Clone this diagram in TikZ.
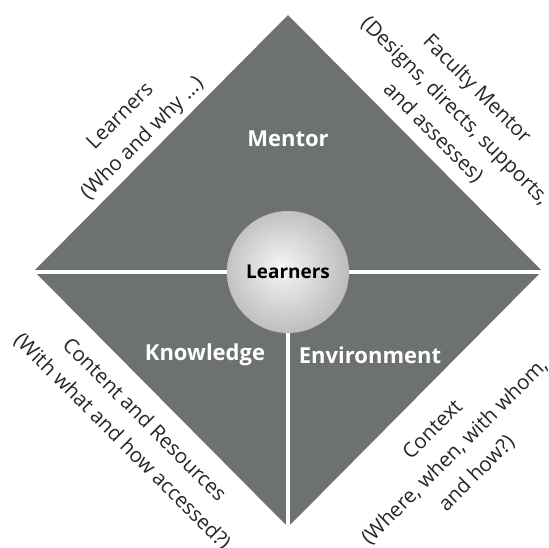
\documentclass[tikz,border=0pt]{standalone}
\usepackage{fontspec}
\setmainfont{Open Sans}
\definecolor{dgray}{RGB}{110,113,113}
\definecolor{txt}{RGB}{38,38,38}
\pgfdeclareradialshading{ballgray}{\pgfpoint{-3bp}{2bp}}{color(0bp)=(white!97!black); color(5bp)=(white!92!black); color(50bp)=(black!46)}
\begin{document}
\begin{tikzpicture}[x=1pt,y=-1pt,
  big/.style={text=white, font=\fontsize{22}{26}\selectfont\bfseries, inner sep=0pt},
  side/.style={align=center, text=txt, font=\fontsize{20.5}{31}\selectfont, inner sep=0pt},
  gap/.style={white, line width=4.2pt}]
\useasboundingbox (0,0) rectangle (549,547);
\coordinate (T) at (288,15);
\coordinate (L) at (34,271);
\coordinate (R) at (542,271);
\coordinate (B) at (288,527);
\coordinate (HL) at (30,272);
\coordinate (HR) at (546,272);
\fill[dgray] (T) -- (R) -- (B) -- (L) -- cycle;
\draw[gap] (HL) -- (HR);
\node[circle, minimum size=122pt, inner sep=0pt, shade, shading=ballgray,
      font=\fontsize{19}{22}\selectfont\bfseries, text=black] (hub) at (288,272) {Learners};
\draw[gap] (hub) -- (B);
\node[big] (mentor) at (288,139) {Mentor};
\node[big] (know) at (205,355) {Knowledge};
\node[big] (env) at (370,355) {Environment};
\node[side, rotate=45] (tl) at (132,128) {Learners\\(Who and why …)};
\node[side, rotate=-45] (tr) at (455,111) {Faculty Mentor\\(Designs, directs, supports,\\and assesses)};
\node[side, rotate=-45] (bl) at (133,431) {Content and Resources\\(With what and how accessed?)};
\node[side, rotate=45] (br) at (455,452) {Context\\(Where, when, with whom,\\and how?)};
\end{tikzpicture}
\end{document}
